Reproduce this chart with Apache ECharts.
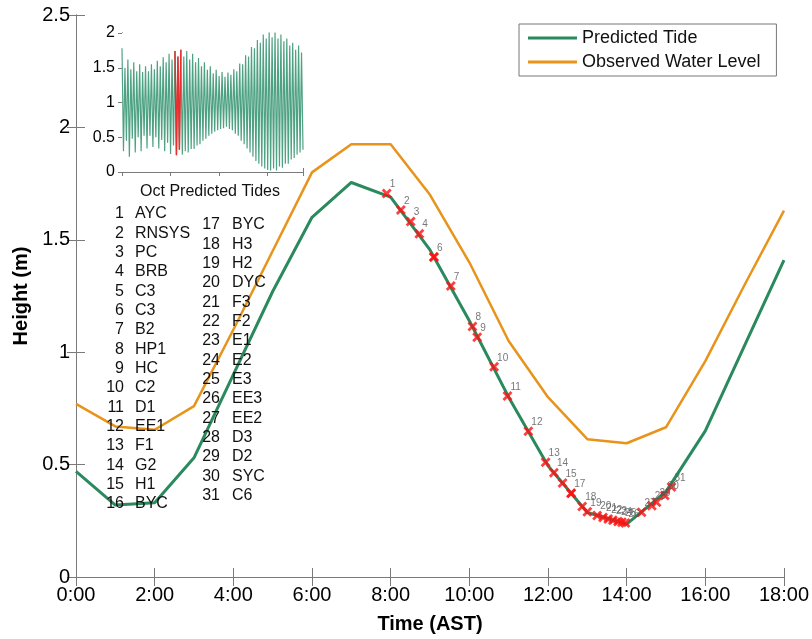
<!DOCTYPE html>
<html><head><meta charset="utf-8">
<script src="https://cdn.jsdelivr.net/npm/echarts@6/dist/echarts.min.js"></script>
<style>html,body{margin:0;padding:0;background:#fff}#c{width:812px;height:639px}</style>
</head><body><div id="c"></div>
<script>
// ---- data ----
const hours = [0,1,2,3,4,5,6,7,8,9,10,11,12,13,14,15,16,17,18];
const predicted = [0.47,0.32,0.33,0.53,0.90,1.27,1.60,1.755,1.69,1.455,1.14,0.80,0.495,0.287,0.235,0.38,0.65,1.03,1.41];
const observed  = [0.77,0.67,0.655,0.76,1.10,1.45,1.80,1.925,1.925,1.70,1.40,1.05,0.80,0.613,0.595,0.666,0.96,1.30,1.63];
const markerTimes   = [7.90,8.26,8.51,8.73,9.10,9.10,9.53,10.08,10.20,10.63,10.97,11.50,11.94,12.15,12.37,12.59,12.59,12.87,13.00,13.25,13.40,13.53,13.65,13.78,13.88,13.97,14.38,14.64,14.76,14.97,15.14];
const markerHeights = [1.706,1.633,1.581,1.527,1.424,1.424,1.295,1.114,1.067,0.935,0.805,0.648,0.511,0.464,0.418,0.372,0.372,0.314,0.29,0.274,0.265,0.258,0.252,0.247,0.243,0.240,0.288,0.317,0.332,0.362,0.400];
const stationNames = ['AYC','RNSYS','PC','BRB','C3','C3','B2','HP1','HC','C2','D1','EE1','F1','G2','H1','BYC',
  'BYC','H3','H2','DYC','F3','F2','E1','E2','E3','EE3','EE2','D3','D2','SYC','C6'];
const insetHighs = [1.78,1.50,1.62,1.48,1.58,1.45,1.55,1.44,1.52,1.45,
  1.55,1.48,1.60,1.52,1.65,1.58,1.70,1.62,1.74,1.66,
  1.76,1.66,1.74,1.62,1.70,1.58,1.64,1.52,1.58,1.47,
  1.52,1.42,1.47,1.38,1.44,1.37,1.43,1.40,1.48,1.45,
  1.56,1.55,1.68,1.66,1.80,1.78,1.90,1.86,1.98,1.92,
  2.02,1.94,2.02,1.92,1.98,1.88,1.92,1.82,1.86,1.76,1.82,1.72];
const insetLows = [0.30,0.45,0.22,0.48,0.28,0.50,0.30,0.52,0.34,0.52,
  0.36,0.50,0.34,0.46,0.30,0.42,0.26,0.38,0.24,0.32,
  0.25,0.30,0.28,0.33,0.33,0.38,0.40,0.45,0.48,0.52,
  0.55,0.58,0.60,0.62,0.63,0.65,0.62,0.60,0.55,0.52,
  0.45,0.40,0.34,0.28,0.22,0.16,0.12,0.08,0.05,0.03,
  0.02,0.05,0.02,0.08,0.06,0.12,0.12,0.18,0.20,0.25,0.28,0.32];
const xTickLabels = ['0:00','2:00','4:00','6:00','8:00','10:00','12:00','14:00','16:00','18:00'];

// ---- build ----
const green = '#2a8a5e', orange = '#e8931a';
const predData = hours.map((h,i)=>[h,predicted[i]]);
const obsData = hours.map((h,i)=>[h,observed[i]]);
const markData = markerTimes.map((t,i)=>[t,markerHeights[i],i+1]);
const insetSeq = [];
insetHighs.forEach((h,i)=>{insetSeq.push(h); insetSeq.push(insetLows[i]);});
const insetData = insetSeq.map((v,i)=>[i,v]);
const redData = insetData.slice(36,41);

const font = '"Liberation Sans", Arial, sans-serif';
const graphics = [];
graphics.push({type:'text', z:50, style:{text:'Oct Predicted Tides', x:210, y:192, align:'center', verticalAlign:'middle', font:'16px ' + font, fill:'#111'}});
stationNames.forEach((n,i)=>{
  const col = i < 16 ? 0 : 1;
  const row = col===0 ? i : i-16;
  const y = (col===0 ? 214 : 225) + row*19.33;
  const numX = col===0 ? 124 : 220;
  const nameX = col===0 ? 135 : 232;
  graphics.push({type:'text', style:{text:String(i+1), x:numX, y:y, align:'right', verticalAlign:'middle', font:'16px ' + font, fill:'#111'}, z:50});
  graphics.push({type:'text', style:{text:n, x:nameX, y:y, align:'left', verticalAlign:'middle', font:'16px ' + font, fill:'#111'}, z:50});
});

const axisCol = '#7a7a7a';
const chart = echarts.init(document.getElementById('c'), null, {renderer:'canvas'});
const option = {
  animation:false,
  backgroundColor:'#fff',
  grid:[
    {left:76, right:28, top:15, bottom:57, show:false},
    {left:122, top:33, width:181, height:139, show:true, backgroundColor:'#fff', borderWidth:0, z:5}
  ],
  legend:{
    left:519, top:24, orient:'vertical', icon:'rect', itemWidth:49, itemHeight:3, itemGap:6,
    padding:[5,16,5,9], borderColor:'#777', borderWidth:1, backgroundColor:'#fff',
    textStyle:{fontSize:18, fontFamily:font, color:'#111', lineHeight:18, padding:[0,0,0,0]},
    data:['Predicted Tide','Observed Water Level']
  },
  xAxis:[
    {gridIndex:0, type:'value', min:0, max:18, interval:2, position:'bottom',
     name:'Time (AST)', nameLocation:'middle', nameGap:37,
     nameTextStyle:{fontSize:20, fontWeight:'bold', fontFamily:font, color:'#000'},
     axisLine:{lineStyle:{color:axisCol}}, axisTick:{inside:true, length:9, lineStyle:{color:axisCol}},
     axisLabel:{fontSize:20, fontFamily:font, color:'#000', margin:8, formatter:(v)=>xTickLabels[v/2]}, splitLine:{show:false}},
    {gridIndex:0, type:'value', min:0, max:18, interval:2, position:'top',
     axisLine:{lineStyle:{color:axisCol}}, axisTick:{inside:true, length:9, lineStyle:{color:axisCol}},
     axisLabel:{show:false}, splitLine:{show:false}},
    {gridIndex:1, type:'value', min:0, max:123, interval:33, position:'bottom',
     axisLine:{lineStyle:{color:axisCol}}, axisTick:{inside:true, length:4, lineStyle:{color:axisCol}},
     axisLabel:{show:false}, splitLine:{show:false}},
    {gridIndex:1, type:'value', min:0, max:123, interval:33, position:'top',
     axisLine:{lineStyle:{color:axisCol}}, axisTick:{inside:true, length:4, lineStyle:{color:axisCol}},
     axisLabel:{show:false}, splitLine:{show:false}}
  ],
  yAxis:[
    {gridIndex:0, type:'value', min:0, max:2.5, interval:0.5, position:'left',
     name:'Height (m)', nameLocation:'middle', nameGap:40, nameRotate:90,
     nameTextStyle:{fontSize:20, fontWeight:'bold', fontFamily:font, color:'#000'},
     axisLine:{show:true, lineStyle:{color:axisCol}}, axisTick:{show:true, inside:true, length:9, lineStyle:{color:axisCol}},
     axisLabel:{fontSize:20, fontFamily:font, color:'#000', margin:6}, splitLine:{show:false}},
    {gridIndex:0, type:'value', min:0, max:2.5, interval:0.5, position:'right',
     axisLine:{show:true, lineStyle:{color:axisCol}}, axisTick:{show:true, inside:true, length:9, lineStyle:{color:axisCol}},
     axisLabel:{show:false}, splitLine:{show:false}},
    {gridIndex:1, type:'value', min:0, max:2, interval:0.5, position:'left',
     axisLine:{show:true, lineStyle:{color:axisCol}}, axisTick:{show:true, inside:true, length:4, lineStyle:{color:axisCol}},
     axisLabel:{fontSize:16, fontFamily:font, color:'#000', margin:7}, splitLine:{show:false}},
    {gridIndex:1, type:'value', min:0, max:2, interval:0.5, position:'right',
     axisLine:{show:true, lineStyle:{color:axisCol}}, axisTick:{show:true, inside:true, length:4, lineStyle:{color:axisCol}},
     axisLabel:{show:false}, splitLine:{show:false}}
  ],
  series:[
    {name:'Predicted Tide', type:'line', xAxisIndex:0, yAxisIndex:0, data:predData, symbol:'none',
     lineStyle:{color:green, width:3}, itemStyle:{color:green}, z:3},
    {name:'Observed Water Level', type:'line', xAxisIndex:0, yAxisIndex:0, data:obsData, symbol:'none',
     lineStyle:{color:orange, width:2.5}, itemStyle:{color:orange}, z:2},
    {name:'stations', type:'scatter', xAxisIndex:0, yAxisIndex:0, data:markData,
     symbol:'path://M2,0 L5,3 L8,0 L10,2 L7,5 L10,8 L8,10 L5,7 L2,10 L0,8 L3,5 L0,2 Z', symbolSize:10,
     itemStyle:{color:'#ff1010'}, z:4,
     label:{show:true, position:'right', distance:0, offset:[-2,-9], fontSize:10, fontFamily:font, color:'#555',
       formatter:(p)=>{
         const i = p.dataIndex;
         if (i+1 < markerTimes.length && markerTimes[i+1]===markerTimes[i] && markerHeights[i+1]===markerHeights[i]) return '';
         return String(p.data[2]);
       }}},
    {name:'inset', type:'line', xAxisIndex:2, yAxisIndex:2, data:insetData, symbol:'none',
     lineStyle:{color:'#4ea283', width:1.2}, z:6, clip:true},
    {name:'insetRed', type:'line', xAxisIndex:2, yAxisIndex:2, data:redData, symbol:'none',
     lineStyle:{color:'#e83030', width:1.5}, z:7}
  ],
  graphic:graphics
};
chart.setOption(option);
</script></body></html>
